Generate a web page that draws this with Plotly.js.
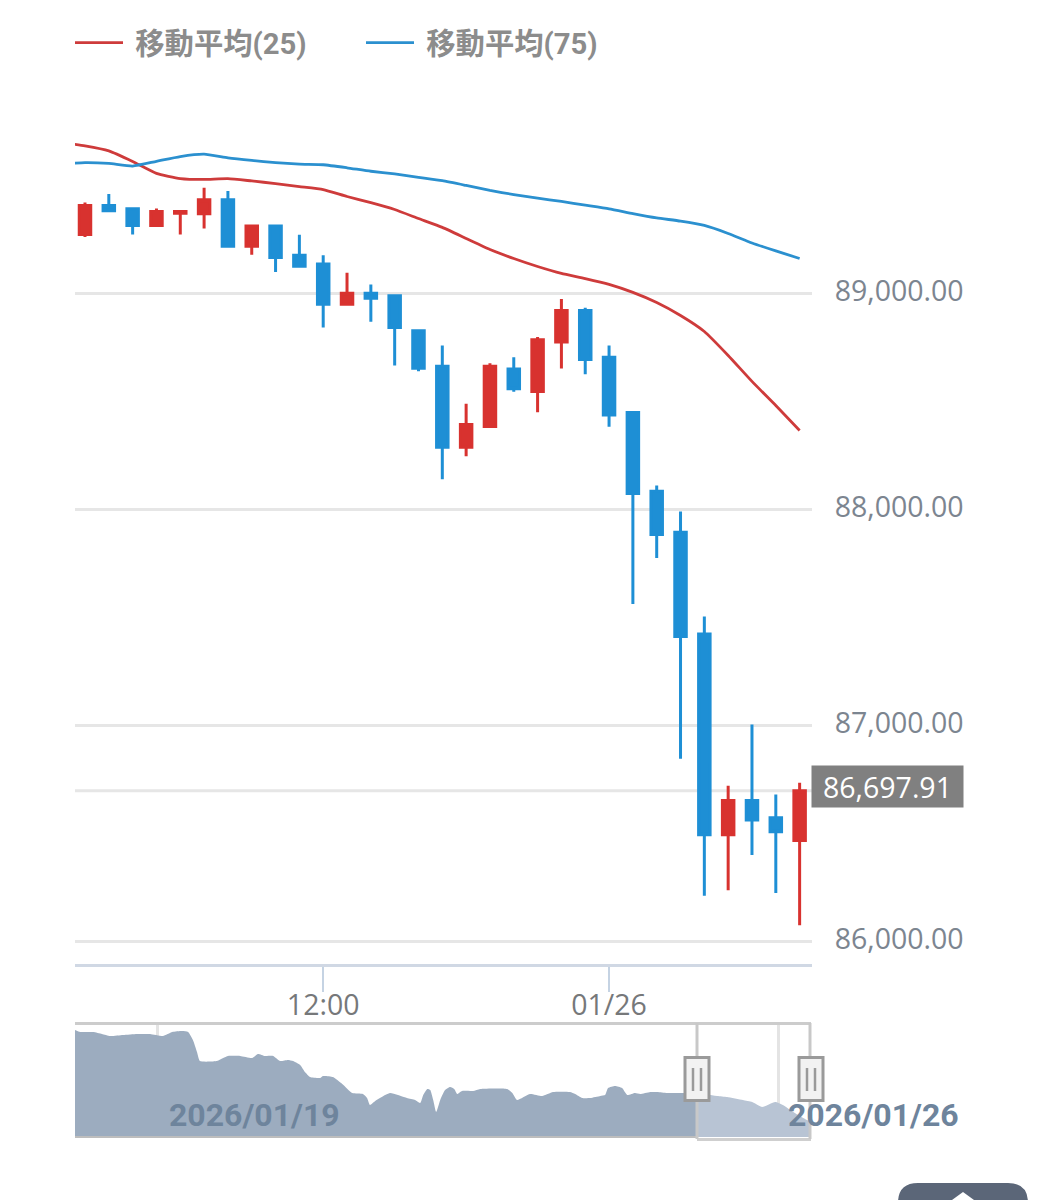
<!DOCTYPE html>
<html><head><meta charset="utf-8">
<script src="https://cdn.plot.ly/plotly-3.0.1.min.js"></script>
<style>html,body{margin:0;padding:0;background:#fff;overflow:hidden}#c{width:1048px;height:1200px}</style>
</head><body><div id="c"></div>
<script>
const times=["2026-01-25 02:00","2026-01-25 03:00","2026-01-25 04:00","2026-01-25 05:00","2026-01-25 06:00","2026-01-25 07:00","2026-01-25 08:00","2026-01-25 09:00","2026-01-25 10:00","2026-01-25 11:00","2026-01-25 12:00","2026-01-25 13:00","2026-01-25 14:00","2026-01-25 15:00","2026-01-25 16:00","2026-01-25 17:00","2026-01-25 18:00","2026-01-25 19:00","2026-01-25 20:00","2026-01-25 21:00","2026-01-25 22:00","2026-01-25 23:00","2026-01-26 00:00","2026-01-26 01:00","2026-01-26 02:00","2026-01-26 03:00","2026-01-26 04:00","2026-01-26 05:00","2026-01-26 06:00","2026-01-26 07:00","2026-01-26 08:00"];
const opens=[89273,89407,89392,89315,89372,89369,89434,89219,89312,89177,89137,88950,89001,88989,88827,88663,88288,88384,88651,88546,88775,88921,88705,88449,88085,87895,87423,86494,86653,86573,86468];
const highs=[89421,89461,89392,89393,89380,89489,89475,89312,89312,89272,89177,89096,89042,88989,88827,88759,88489,88677,88705,88798,88974,88934,88759,88449,88111,87991,87505,86721,87005,86681,86735];
const lows=[89261,89383,89273,89315,89273,89301,89219,89179,89099,89126,88843,88950,88869,88667,88640,88140,88247,88384,88545,88450,88653,88626,88383,87562,87776,86846,86212,86237,86400,86224,86075];
const closes=[89407,89383,89315,89380,89380,89434,89219,89312,89167,89126,88950,89001,88978,88843,88654,88288,88393,88663,88559,88786,88921,88694,88437,88074,87884,87412,86494,86653,86562,86508,86697.91];
const maTimes=["2026-01-25 01:00"].concat(times);
const ma25=[89699,89683,89660,89611,89556,89532,89528,89532,89521,89509,89495,89481,89449,89421,89389,89347,89306,89255,89204,89162,89125,89093,89069,89042,89005,88958,88898,88824,88713,88593,88481,88366];
const ma75=[89599,89606,89602,89590,89612,89634,89645,89628,89616,89606,89599,89596,89582,89566,89554,89538,89522,89500,89477,89458,89441,89426,89409,89392,89370,89350,89335,89315,89278,89234,89197,89162];
const maNames=["移動平均(25)","移動平均(75)"];
const lastPrice=86697.91;
const lastPriceLabel="86,697.91";
const priceTicks=[86000,87000,88000,89000];
const priceTickLabels=["86,000.00","87,000.00","88,000.00","89,000.00"];
const timeTicks=["2026-01-25 12:00","2026-01-26 00:00"];
const timeTickLabels=["12:00","01/26"];
// overview: hours since 2026/01/19 00:00
const ovHours=[-22.2,-20.8,-17.3,-14.9,-12.7,-9.2,-5.4,-1.9,1.6,4.1,6.8,8.4,9.7,10.8,11.6,16.2,17.9,19.2,22.5,25.7,27.3,29.2,31.4,33.3,35.4,36.8,38.7,40.0,41.4,44.1,44.9,47.6,50.1,52.8,55.7,56.8,57.6,59.0,63.0,67.6,69.8,71.2,72.0,73.1,73.9,74.7,75.5,76.6,77.9,79.3,80.4,81.2,82.5,85.5,87.4,94.7,96.1,97.4,100.9,104.2,107.1,111.7,113.1,115.0,117.2,119.9,121.2,122.0,123.9,125.8,127.2,129.3,130.7,133.4,135.3,138.0,145.0,146.1];
const ovValues=[95000,94800,94800,94600,94400,94500,94600,94600,94400,94800,94900,94800,94000,92800,91900,91900,92200,92400,92400,92200,92600,92400,92400,91900,92000,91900,91500,90800,90300,90200,90400,90300,89600,88700,88600,88200,87500,87900,88700,88200,88000,87700,88500,89100,89000,88000,86800,88000,89000,89300,89100,88600,88900,88900,89100,89100,88700,88000,88600,88400,88800,88800,88600,88200,88200,88400,88500,89200,89400,89200,88500,88700,88600,88800,88800,88700,88700,88700];
const ovSelHours=[146.1,151.5,154.2,158.5,161.0,163.7,167.2,169.3,172.1,174.8,176.9];
const ovSelValues=[88700,88400,88300,88000,87800,87300,87800,87500,86800,86200,85800];
const ovTicks=[0,168];
const ovTickLabels=["2026/01/19","2026/01/26"];

const W=1048,H=1200;
const px=x=>x/W, py=y=>1-y/H;
const RED="#D8322F",BLUE="#1E8FD5";
const NUM="'Open Sans',Roboto,sans-serif";
const traces=[
 {type:"candlestick",x:times,open:opens,high:highs,low:lows,close:closes,xaxis:"x",yaxis:"y",showlegend:false,hoverinfo:"skip",whiskerwidth:0,
  increasing:{line:{color:RED,width:3},fillcolor:RED},decreasing:{line:{color:BLUE,width:3},fillcolor:BLUE}},
 {type:"scatter",mode:"lines",name:"\u00a0"+maNames[0],x:maTimes,y:ma25,xaxis:"x",yaxis:"y",line:{color:"#CE3B3B",width:2.8,shape:"spline",smoothing:0.5},hoverinfo:"skip"},
 {type:"scatter",mode:"lines",name:"\u00a0"+maNames[1],x:maTimes,y:ma75,xaxis:"x",yaxis:"y",line:{color:"#2B90CF",width:2.8,shape:"spline",smoothing:0.5},hoverinfo:"skip"},
 {type:"scatter",mode:"lines",x:ovHours,y:ovValues,xaxis:"x2",yaxis:"y2",showlegend:false,hoverinfo:"skip",fill:"tozeroy",fillcolor:"#9CACBF",line:{width:0,shape:"spline",smoothing:0.5}},
 {type:"scatter",mode:"lines",x:ovSelHours,y:ovSelValues,xaxis:"x2",yaxis:"y2",showlegend:false,hoverinfo:"skip",fill:"tozeroy",fillcolor:"#B8C4D4",line:{width:0,shape:"spline",smoothing:0.5}}
];
function pline(x0,y0,x1,y1,color,width){return {type:"line",xref:"paper",yref:"paper",x0:px(x0),x1:px(x1),y0:py(y0),y1:py(y1),line:{color:color,width:width}};}
function prect(x0,y0,x1,y1,fill,lc,lw){return {type:"rect",xref:"paper",yref:"paper",x0:px(x0),x1:px(x1),y0:py(y0),y1:py(y1),fillcolor:fill,line:{color:lc,width:lw}};}
function handle(c){return [prect(c-12,1057.5,c+12,1100.5,"#F2F2F2","#9A9A9A",3),pline(c-4,1068,c-4,1091,"#9A9A9A",2.5),pline(c+4,1068,c+4,1091,"#9A9A9A",2.5)];}
const R=20,bx0=898,bx1=1028,bt=1183;
const shapes=[
 {type:"line",xref:"paper",yref:"y",x0:px(75),x1:px(812),y0:lastPrice,y1:lastPrice,line:{color:"#E6E6E6",width:3},layer:"below"},
 pline(75,1023.5,811,1023.5,"#CCCCCC",3),
 pline(75,1137,697,1137,"#BDBDBD",2),
 pline(697,1139.5,811,1139.5,"#CFCFCF",3),
 pline(697,1023,697,1139,"#C8C8C8",3),
 pline(810,1023,810,1139,"#C8C8C8",3),
 ...handle(697),...handle(811),
 {type:"path",xref:"paper",yref:"paper",fillcolor:"#5B6678",line:{width:0},
  path:`M ${px(bx0)} ${py(1200)} L ${px(bx0)} ${py(bt+R)} Q ${px(bx0)} ${py(bt)} ${px(bx0+R)} ${py(bt)} L ${px(bx1-R)} ${py(bt)} Q ${px(bx1)} ${py(bt)} ${px(bx1)} ${py(bt+R)} L ${px(bx1)} ${py(1200)} Z`},
 {type:"path",xref:"paper",yref:"paper",fillcolor:"#FFFFFF",line:{width:0},
  path:`M ${px(952)} ${py(1200)} L ${px(963)} ${py(1192)} L ${px(974)} ${py(1200)} Z`}
];
const labelShift=[10,8];
const annotations=[
 {xref:"paper",yref:"paper",x:px(887.5),y:py(786.5),text:lastPriceLabel,showarrow:false,xanchor:"center",yanchor:"middle",width:149,height:39,bgcolor:"#808080",font:{family:NUM,size:28.5,color:"#FFFFFF"}},
 ...ovTicks.map((t,i)=>({xref:"x2",yref:"paper",x:t,y:py(1115),xshift:labelShift[i],text:ovTickLabels[i],showarrow:false,xanchor:"left",yanchor:"middle",font:{family:"Roboto,sans-serif",size:32,weight:700,color:"#6E849C"}}))
];
const layout={
 width:W,height:H,margin:{l:0,r:0,t:0,b:0},paper_bgcolor:"#fff",plot_bgcolor:"rgba(0,0,0,0)",
 boxgap:0.31,dragmode:false,hovermode:false,
 showlegend:true,
 legend:{orientation:"h",x:px(70),xanchor:"left",y:py(43),yanchor:"middle",itemwidth:48,entrywidth:228,entrywidthmode:"pixels",traceorder:"normal",
  font:{family:"Roboto,'Noto Sans CJK JP',sans-serif",size:29.3,weight:700,color:"#8C8C8C"},bgcolor:"rgba(0,0,0,0)"},
 xaxis:{type:"date",domain:[px(75),px(812)],anchor:"y",range:["2026-01-25 01:34:50","2026-01-26 08:31:10"],rangeslider:{visible:false},
  tickmode:"array",tickvals:timeTicks,ticktext:timeTickLabels,ticks:"outside",ticklen:25,tickwidth:2,tickcolor:"#C5D3E3",ticklabelstandoff:-11,
  showgrid:false,zeroline:false,showline:true,linecolor:"#D0D8E4",linewidth:3,tickfont:{family:NUM,size:28.5,color:"#76787A"},fixedrange:true},
 yaxis:{domain:[py(963.5),py(100)],anchor:"x",side:"right",range:[85898.1,89895.8],tickmode:"array",tickvals:priceTicks,ticktext:priceTickLabels,
  ticks:"outside",ticklen:16,tickwidth:0,tickcolor:"rgba(0,0,0,0)",ticklabelshift:-2,showgrid:true,gridcolor:"#E6E6E6",gridwidth:3,zeroline:false,showline:false,
  tickfont:{family:NUM,size:28.5,color:"#7C8590"},fixedrange:true},
 xaxis2:{domain:[px(75),px(811)],anchor:"y2",range:[-22.2,176.9],tickmode:"array",tickvals:ovTicks,ticktext:["",""],ticks:"",showgrid:true,gridcolor:"#E4E4E4",gridwidth:3,zeroline:false,showline:false,fixedrange:true},
 yaxis2:{domain:[py(1137),py(1023)],anchor:"x2",range:[84300,95700],visible:false,fixedrange:true},
 shapes:shapes,annotations:annotations
};
Plotly.newPlot("c",traces,layout,{displayModeBar:false,staticPlot:true});
</script></body></html>
